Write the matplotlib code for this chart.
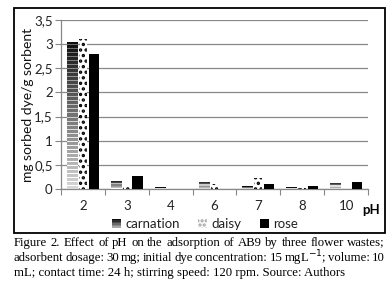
import numpy as np
import matplotlib
matplotlib.use("Agg")
import matplotlib.pyplot as plt
from matplotlib.patches import Rectangle, Patch
from matplotlib.legend_handler import HandlerBase

categories = ["2", "3", "4", "6", "7", "8", "10"]
carnation = [3.05, 0.17, 0.04, 0.15, 0.06, 0.04, 0.13]
daisy = [3.10, 0.07, 0.0, 0.10, 0.22, 0.03, 0.0]
rose = [2.80, 0.27, 0.0, 0.0, 0.10, 0.07, 0.15]
yticks = [0, 0.5, 1, 1.5, 2, 2.5, 3, 3.5]
ytick_labels = ["0", "0,5", "1", "1,5", "2", "2,5", "3", "3,5"]
caption = ["Figure 2. Effect of pH on the adsorption of AB9 by three flower wastes;",
           "adsorbent dosage: 30 mg; initial dye concentration: 15 mgL$^{\\mathrm{-1}}$; volume: 10",
           "mL; contact time: 24 h; stirring speed: 120 rpm. Source: Authors"]

plt.rcParams['font.family'] = ['Lato', 'DejaVu Sans']
plt.rcParams['hatch.linewidth'] = 1.6
fig = plt.figure(figsize=(3.91, 2.85), dpi=100)
fig.patch.set_facecolor('white')

W, H = 391, 285
ax = fig.add_axes([61 / W, 1 - 189 / H, (368 - 61) / W, (189 - 20) / H])
ax.set_xlim(0, len(categories))
ax.set_ylim(0, 3.5)

x = np.arange(len(categories)) + 0.5
bw = 0.235
px_per_unit = 169 / 3.5

def stripe_img(hpx):
    n = max(int(round(hpx)), 2)
    arr = np.ones((n, 1, 3))
    for i in range(n):
        t = i / max(n - 1, 1)
        g = 0.05 + 0.8 * t
        if i % 4 == 3:
            g = min(1.0, g + 0.35)
        arr[i, 0, :] = g
    return arr

bars_c = ax.bar(x - bw * 1.05, carnation, bw, color='#404040', linewidth=0, zorder=3)
for b, v in zip(bars_c, carnation):
    if v <= 0:
        continue
    x0 = b.get_x()
    im = ax.imshow(stripe_img(v * px_per_unit), extent=(x0, x0 + b.get_width(), 0, v),
                   aspect='auto', interpolation='nearest', zorder=4)
    im.set_clip_path(b)
ax.bar(x, daisy, bw * 0.75, color='white', edgecolor='black', linewidth=0,
       hatch='...', zorder=3)
ax.bar(x + bw * 1.05, rose, bw, color='black', linewidth=0, zorder=3)

ax.set_aspect('auto')
ax.set_xlim(0, len(categories))
ax.set_ylim(0, 3.5)

ax.set_yticks(yticks)
ax.set_yticklabels(ytick_labels)
ax.set_xticks(np.arange(len(categories) + 1))
ax.set_xticklabels([])
ax.set_xticks(x, minor=True)
ax.set_xticklabels(categories, minor=True)
ax.tick_params(axis='x', which='minor', length=0, pad=8, labelsize=9.5, labelcolor='#222222')
ax.tick_params(axis='x', which='major', length=4, color='#888888')
ax.tick_params(axis='y', length=4, color='#888888', labelsize=9.5, labelcolor='#222222', pad=2)
ax.grid(axis='y', color='#888888', linewidth=0.9, zorder=0)
ax.set_axisbelow(True)
for s in ['top', 'right']:
    ax.spines[s].set_visible(False)
for s in ['left', 'bottom']:
    ax.spines[s].set_color('#888888')
    ax.spines[s].set_linewidth(0.9)

ax.set_ylabel("mg sorbed dye/g sorbent", fontsize=10, labelpad=0, color='#111111')
fig.text(362 / W, 1 - 210 / H, "pH", fontsize=9.5, fontweight='bold', ha='left', va='center')


class GradHandler(HandlerBase):
    def create_artists(self, legend, orig_handle, xdescent, ydescent, width, height, fontsize, trans):
        arts = []
        n = 6
        for i in range(n):
            g = 0.05 + 0.6 * i / (n - 1)
            r = Rectangle((-xdescent, -ydescent + height * (n - 1 - i) / n), width, height / n,
                          facecolor=(g, g, g), edgecolor='none', transform=trans)
            arts.append(r)
        return arts

h_c = Patch(facecolor='#444444')
h_d = Patch(facecolor='white', edgecolor='#999999', hatch='....', linewidth=0)
h_r = Patch(facecolor='black')
fig.legend([h_c, h_d, h_r], ["carnation", "daisy", "rose"], loc='center',
           bbox_to_anchor=(205 / W, 1 - 224 / H), ncol=3, frameon=False,
           fontsize=9.5, handlelength=0.7, handleheight=0.7, handletextpad=0.3,
           columnspacing=1.4, labelcolor='#222222',
           handler_map={h_c: GradHandler()})

fig.add_artist(Rectangle((14 / W, 1 - 233 / H), (385 - 14) / W, (233 - 8) / H,
                         transform=fig.transFigure, fill=False, edgecolor='black',
                         linewidth=1.3))

# caption, first two lines justified
renderer = fig.canvas.get_renderer()
cap_kw = dict(fontsize=9.2, family='Liberation Serif', ha='left', va='center', color='black')
left_px, right_px = 14, 385
for i, line in enumerate(caption):
    ypos = 1 - (243 + 15 * i) / H
    if i < 2:
        words = line.split(' ')
        texts = [fig.text(0, ypos, w, **cap_kw) for w in words]
        widths = [t.get_window_extent(renderer).width for t in texts]
        gap = (right_px - left_px - sum(widths)) / (len(words) - 1)
        xp = left_px
        for t, wd in zip(texts, widths):
            t.set_x(xp / W)
            xp += wd + gap
    else:
        fig.text(left_px / W, ypos, line, **cap_kw)

fig.savefig("out.png", dpi=100)
